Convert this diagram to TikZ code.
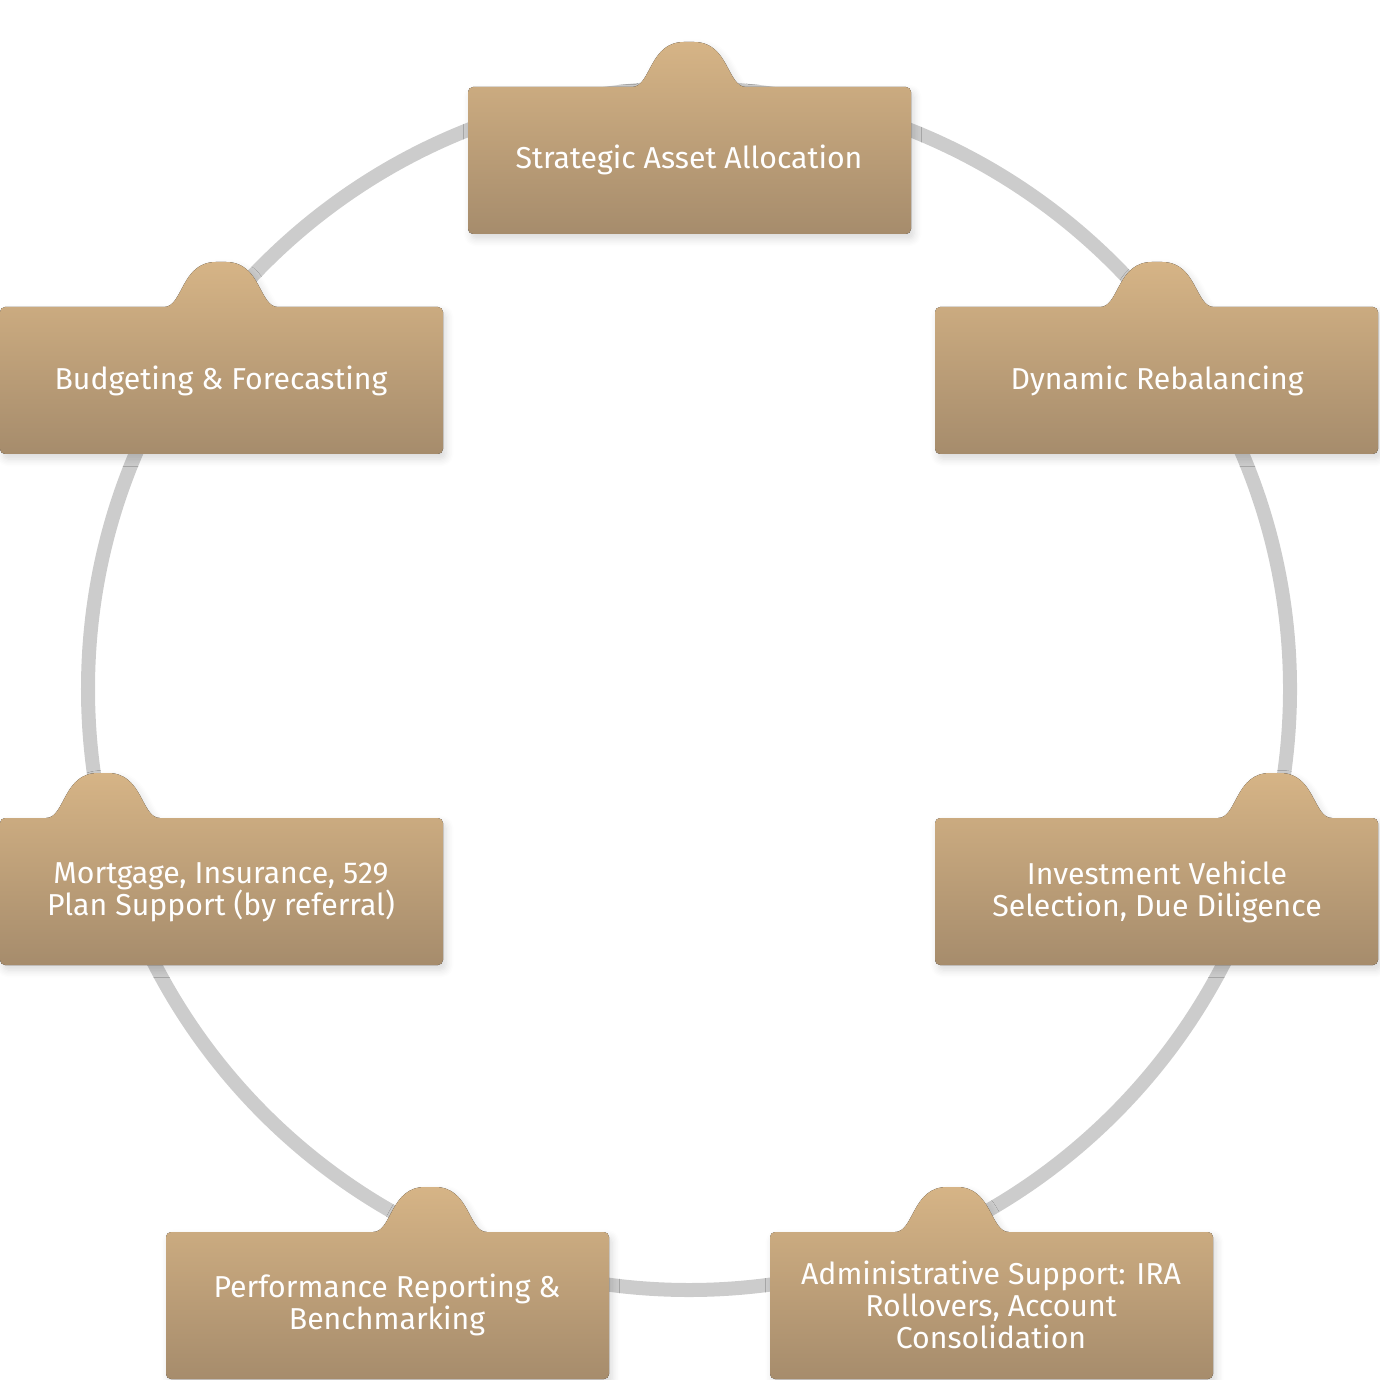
\documentclass[tikz,border=0pt]{standalone}
\usepackage{fontspec}
\setmainfont{Fira Sans}
\usetikzlibrary{shadows.blur}
\definecolor{ringgray}{RGB}{204,204,204}
\definecolor{tantop}{RGB}{214,180,134}
\definecolor{tanbot}{RGB}{166,140,108}
\tikzset{
  tabbox/.style={top color=tantop, bottom color=tanbot, draw=none,
    rounded corners=0.05cm, blur shadow={shadow blur steps=6, shadow xshift=0.03cm, shadow yshift=-0.05cm, shadow opacity=15}},
  label/.style={text=white, align=center, font=\fontsize{8.6}{9.2}\selectfont}
}
% left, top, tab centre
\newcommand\tabpath[3]{%
  (#1,#2+147) -- (#1,#2) -- (#3-62,#2) .. controls (#3-38,#2) and (#3-40,#2-45) .. (#3,#2-45)
  .. controls (#3+40,#2-45) and (#3+38,#2) .. (#3+62,#2) -- (#1+443,#2) -- (#1+443,#2+147) -- cycle
}

\begin{document}
\begin{tikzpicture}[x=0.01cm, y=-0.01cm]
\useasboundingbox (0,0) rectangle (1380,1380);
\draw[ringgray, line width=0.14cm] (689,689) circle (601);
%
\fill[tabbox] \tabpath{468}{87}{689};
\node[label] (saa) at (689,160) {Strategic Asset Allocation};
\fill[tabbox] \tabpath{0}{307}{221};
\node[label] (bf) at (221,381) {Budgeting \& Forecasting};
\fill[tabbox] \tabpath{935}{307}{1157};
\node[label] (dr) at (1157,381) {Dynamic Rebalancing};
\fill[tabbox] \tabpath{0}{818}{103};
\node[label] (mis) at (221,892) {Mortgage, Insurance, 529\\Plan Support (by referral)};
\fill[tabbox] \tabpath{935}{818}{1275};
\node[label] (ivs) at (1157,892) {Investment Vehicle\\Selection, Due Diligence};
\fill[tabbox] \tabpath{166}{1232}{430};
\node[label] (prb) at (387,1305) {Performance Reporting \&\\Benchmarking};
\fill[tabbox] \tabpath{770}{1232}{952};
\node[label] (asr) at (991,1305) {Administrative Support: IRA\\Rollovers, Account\\Consolidation};
\end{tikzpicture}
\end{document}
